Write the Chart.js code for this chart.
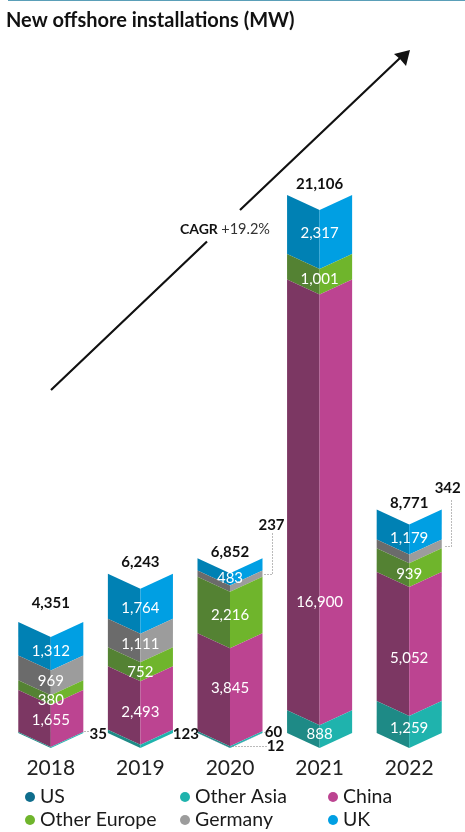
<!DOCTYPE html>
<html>
<head>
<meta charset="utf-8">
<style>
    html, body { margin: 0; padding: 0; background: #fff; }
    #wrap { width: 465px; height: 832px; }
</style>
<script src="https://cdn.jsdelivr.net/npm/chart.js@4"></script>
</head>
<body>
<div id="wrap"><canvas id="myChart" width="465" height="832"></canvas></div>
<script>
// Values
const years = ["2018", "2019", "2020", "2021", "2022"];
const seriesNames = ["US", "Other Asia", "China", "Other Europe", "Germany", "UK"];
const us = [0, 0, 12, 0, 0];
const otherAsia = [35, 123, 60, 888, 1259];
const china = [1655, 2493, 3845, 16900, 5052];
const otherEurope = [380, 752, 2216, 1001, 939];
const germany = [969, 1111, 237, 0, 342];
const uk = [1312, 1764, 483, 2317, 1179];
const totals = [4351, 6243, 6852, 21106, 8771];

const lightColors = ["#0f6d8c", "#1fb3ad", "#bc4491", "#6fb52c", "#9c9c9c", "#009fe3"];
const darkColors = ["#0b5a70", "#1e8a86", "#7c3763", "#548233", "#6b6b6b", "#0081b4"];

const FONT = "Lato";
const DROP = 15; // how far the middle of a bar hangs below its outer edges

// Hand adjustments (px) so the labels sit where they do in the picture
const insideNudge = [
    [0, 0, 0, 0, 0],
    [0, 0, 0, -3, -4],
    [-6, -1, -9, 92, 7],
    [0, 0, -5, -3, -1],
    [-2, -4, 0, 0, 0],
    [-3, -3, -1, -6, -1]
];
const totalGap = [19, 12, 6, 11, 6];

// Labels that do not fit in their segment, with dotted leaders.
// x/y are measured from the right/bottom outer corner of the bar.
const outsideLabels = [
    { series: 1, year: 0, x: 15, y: 1, leader: [[1, -2], [5, -2]] },
    { series: 1, year: 1, x: 13, y: 1, leader: [] },
    { series: 1, year: 2, x: 11, y: -1, leader: [[1, -1], [5, -1]] },
    { series: 0, year: 2, x: 13, y: 13, leader: [[-31, 13], [5, 13]] },
    { series: 4, year: 2, x: 9, y: -208, leader: [[1, -159], [9, -159], [9, -200]] },
    { series: 4, year: 4, x: 6, y: -245, leader: [[3, -187], [9, -187], [9, -233]] }
];
const legendColumns = [30, 185, 333];
const legendRows = [797, 820];

// Every bar is drawn as a chevron split in a dark and a light half
Chart.BarElement.prototype.draw = function(ctx) {
    const { x, y, base, width } = this.getProps(["x", "y", "base", "width"]);
    if (Math.abs(base - y) < 0.01) {
        return;
    }
    const half = width / 2;
    ctx.save();
    ctx.fillStyle = this.options.borderColor;
    ctx.beginPath();
    ctx.moveTo(x - half, y);
    ctx.lineTo(x, y + DROP);
    ctx.lineTo(x, base + DROP);
    ctx.lineTo(x - half, base);
    ctx.closePath();
    ctx.fill();
    ctx.fillStyle = this.options.backgroundColor;
    ctx.beginPath();
    ctx.moveTo(x + half, y);
    ctx.lineTo(x, y + DROP);
    ctx.lineTo(x, base + DROP);
    ctx.lineTo(x + half, base);
    ctx.closePath();
    ctx.fill();
    ctx.restore();
};

function fmt(v) {
    return v.toLocaleString("en-US");
}

// Segment values, totals, outside labels
const labelPlugin = {
    id: "labelPlugin",
    afterDatasetsDraw(chart) {
        const ctx = chart.ctx;
        ctx.save();
        ctx.textAlign = "center";
        ctx.textBaseline = "middle";

        ctx.font = `15px ${FONT}`;
        ctx.fillStyle = "#ffffff";
        chart.data.datasets.forEach((ds, s) => {
            const els = chart.getDatasetMeta(s).data;
            ds.data.forEach((v, i) => {
                if (v > 350) {
                    const el = els[i];
                    ctx.fillText(fmt(v), el.x, (el.y + el.base) / 2 + DROP + insideNudge[s][i]);
                }
            });
        });

        ctx.font = `bold 15px ${FONT}`;
        ctx.fillStyle = "#111111";
        totals.forEach((t, i) => {
            const el = chart.getDatasetMeta(5).data[i];
            ctx.fillText(fmt(t), el.x, chart.scales.y.getPixelForValue(t) - totalGap[i]);
        });

        outsideLabels.forEach((o) => {
            const el = chart.getDatasetMeta(o.series).data[o.year];
            const right = el.x + el.width / 2;
            const bottom = chart.scales.y.getPixelForValue(0);
            ctx.font = `bold 15px ${FONT}`;
            ctx.fillStyle = "#111111";
            ctx.fillText(fmt(chart.data.datasets[o.series].data[o.year]), right + o.x, bottom + o.y);
            if (o.leader.length) {
                ctx.strokeStyle = "#777777";
                ctx.lineWidth = 1;
                ctx.setLineDash([1, 2]);
                ctx.beginPath();
                o.leader.forEach((p, n) => {
                    const px = Math.round(right + p[0]) + 0.5;
                    const py = Math.round(bottom + p[1]) + 0.5;
                    if (n == 0) {
                        ctx.moveTo(px, py);
                    } else {
                        ctx.lineTo(px, py);
                    }
                });
                ctx.stroke();
                ctx.setLineDash([]);
            }
        });
        ctx.restore();
    }
};

// CAGR arrow, broken around its caption
const arrowPlugin = {
    id: "arrowPlugin",
    afterDraw(chart) {
        const ctx = chart.ctx;
        ctx.save();
        // thin rule along the top edge of the picture
        ctx.fillStyle = "#5a9fb8";
        ctx.fillRect(8, 0, 457, 1);

        ctx.strokeStyle = "#111111";
        ctx.fillStyle = "#111111";
        ctx.lineWidth = 2.2;
        ctx.beginPath();
        ctx.moveTo(51, 390);
        ctx.lineTo(207, 241.5);
        ctx.moveTo(240, 210);
        ctx.lineTo(400, 58);
        ctx.stroke();
        ctx.beginPath();
        ctx.moveTo(410, 50);
        ctx.lineTo(394, 54);
        ctx.lineTo(400, 59);
        ctx.lineTo(406, 66);
        ctx.closePath();
        ctx.fill();

        ctx.textAlign = "left";
        ctx.textBaseline = "middle";
        ctx.font = `bold 14px ${FONT}`;
        ctx.fillText("CAGR", 180, 229);
        const w = ctx.measureText("CAGR ").width;
        ctx.font = `14.5px ${FONT}`;
        ctx.fillStyle = "#333333";
        ctx.fillText("+19.2%", 180 + w, 229);
        ctx.restore();
    }
};

// Two rows of three, the built in legend cannot line these up in columns
const legendPlugin = {
    id: "legendPlugin",
    afterDraw(chart) {
        const ctx = chart.ctx;
        ctx.save();
        ctx.textAlign = "left";
        ctx.textBaseline = "middle";
        ctx.font = `19.5px ${FONT}`;
        seriesNames.forEach((name, i) => {
            const cx = legendColumns[i % 3];
            const cy = legendRows[Math.floor(i / 3)];
            ctx.fillStyle = lightColors[i];
            ctx.beginPath();
            ctx.arc(cx, cy, 5, 0, Math.PI * 2);
            ctx.fill();
            ctx.fillStyle = "#1a1a1a";
            ctx.fillText(name, cx + 10, cy);
        });
        ctx.restore();
    }
};

const seriesValues = [us, otherAsia, china, otherEurope, germany, uk];

window.onload = function() {
    new Chart(document.getElementById("myChart"), {
        type: "bar",
        data: {
            labels: years,
            datasets: seriesValues.map((vals, i) => ({
                label: seriesNames[i],
                data: vals,
                backgroundColor: lightColors[i],
                borderColor: darkColors[i],
                clip: false
            }))
        },
        options: {
            responsive: false,
            animation: false,
            layout: { padding: { left: 6, right: 11, top: 0, bottom: 0 } },
            categoryPercentage: 1,
            barPercentage: 0.726,
            plugins: {
                legend: { display: false },
                tooltip: { enabled: false },
                title: {
                    display: true,
                    text: "New offshore installations (MW)",
                    align: "start",
                    color: "#111111",
                    font: { family: FONT, size: 20, weight: "bold" },
                    padding: { top: 9, bottom: 4 }
                }
            },
            scales: {
                x: {
                    stacked: true,
                    grid: { display: false },
                    border: { display: false },
                    ticks: { color: "#222222", font: { family: FONT, size: 21 }, padding: 15, maxRotation: 0 },
                    afterFit: (s) => { s.height = 99; }
                },
                y: {
                    stacked: true,
                    display: false,
                    min: 0,
                    max: 27300
                }
            }
        },
        plugins: [labelPlugin, arrowPlugin, legendPlugin]
    });
};
</script>
</body>
</html>
